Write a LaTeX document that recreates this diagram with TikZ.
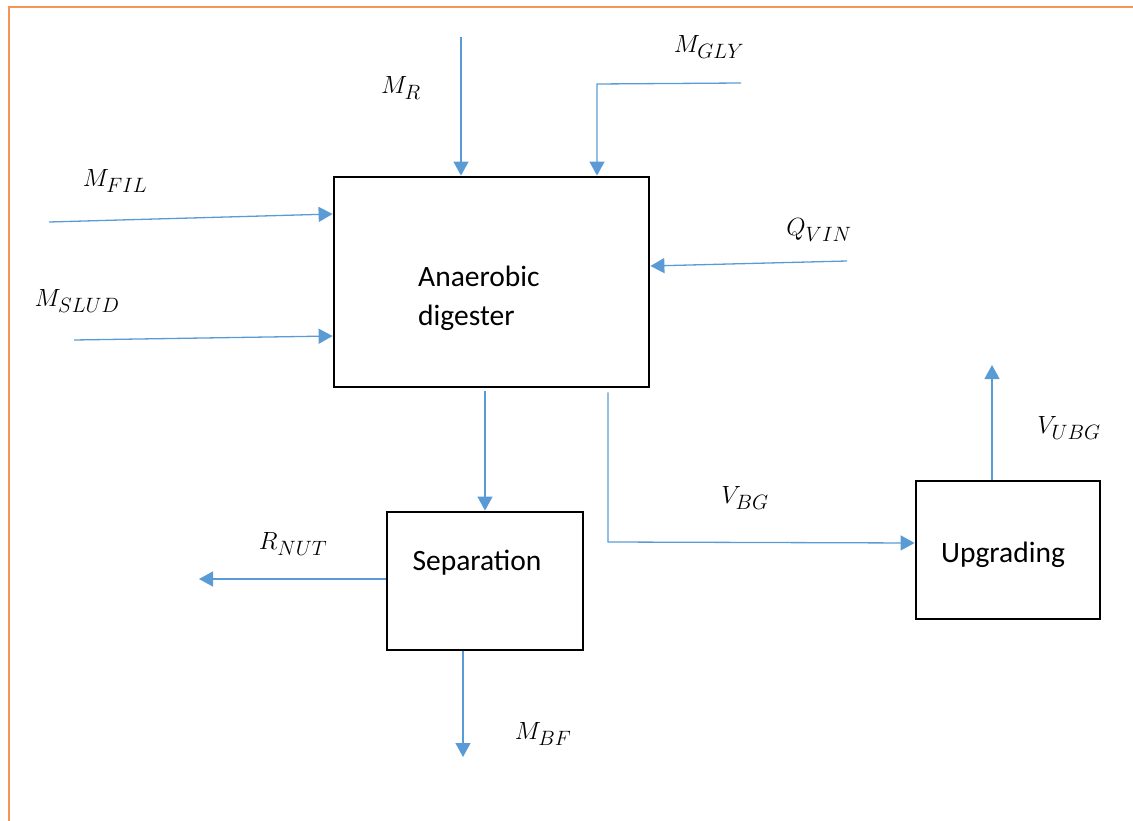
\documentclass[tikz,border=0pt]{standalone}
\usepackage{fontspec}
\setsansfont{Carlito}
\usetikzlibrary{arrows.meta}
\definecolor{flow}{HTML}{5B9BD5}
\definecolor{framecol}{HTML}{F4955A}
\tikzset{
  blk/.style={draw=black,line width=2.8pt,inner sep=0pt,fill=white},
  txt/.style={font=\sffamily\fontsize{29.5}{39}\selectfont,inner sep=0pt},
  lbl/.style={font=\fontsize{28}{32}\selectfont,inner sep=0pt},
  flowline/.style={draw=flow,line width=1.3pt},
  flowarrow/.style={flowline,-{Triangle[length=14pt,width=15pt]}}
}
\begin{document}
\begin{tikzpicture}[x=1pt,y=-1pt]
\useasboundingbox (0,0) rectangle (1133,821);
\draw[framecol,line width=2.4pt] (9,821) -- (9,7) -- (1133,7);

% boxes
\node[blk,minimum width=315pt,minimum height=210pt] (dig) at (491.5,282) {};
\node[blk,minimum width=196pt,minimum height=138pt] (sep) at (485,581) {};
\node[blk,minimum width=184pt,minimum height=138pt] (upg) at (1008,550) {};

\node[txt,anchor=west,align=left] (digtxt) at (418,298) {Anaerobic\\digester};
\node[txt] (septxt) at (477,563) {Separation};
\node[txt] (upgtxt) at (1003,555) {Upgrading};

% free ends
\coordinate (rA) at (461,37);
\coordinate (gA) at (741,83);
\coordinate (gB) at (597,84);
\coordinate (fA) at (49,222);
\coordinate (sA) at (74,340);
\coordinate (qA) at (847,261);
\coordinate (vB) at (608,542);
\coordinate (uE) at (992,365);
\coordinate (nE) at (199,579);
\coordinate (bE) at (463,757);

% inputs
\draw[flowarrow] (rA) -- (rA |- dig.north);
\draw[flowarrow] (gA) -- (gB) -- (gB |- dig.north);
\draw[flowarrow] (fA) -- (dig.north west |- 0,214);
\draw[flowarrow] (sA) -- (dig.north west |- 0,336);
\draw[flowarrow] (qA) -- (dig.north east |- 0,266);
% digester -> separation
\draw[flowarrow] (485,391) -- (sep.north);
% digester -> upgrading
\draw[flowarrow] (dig.south -| vB) ++(0,4) -- (vB) -- (upg.west |- 0,543);
% outputs
\draw[flowarrow] (upg.north -| uE) -- (uE);
\draw[flowarrow] (sep.west |- nE) -- (nE);
\draw[flowarrow] (sep.south -| bE) -- (bE);

% labels
\node[lbl] (lR) at (401,88) {$M_{R}$};
\node[lbl] (lGLY) at (709,47) {$M_{GLY}$};
\node[lbl] (lFIL) at (115,181) {$M_{FIL}$};
\node[lbl] (lSLUD) at (77,301) {$M_{SLUD}$};
\node[lbl] (lQ) at (819,230) {$Q_{VIN}$};
\node[lbl] (lVBG) at (745,498) {$V_{BG}$};
\node[lbl] (lUBG) at (1069,428) {$V_{UBG}$};
\node[lbl] (lNUT) at (293,544) {$R_{NUT}$};
\node[lbl] (lBF) at (543,734) {$M_{BF}$};
\end{tikzpicture}
\end{document}
